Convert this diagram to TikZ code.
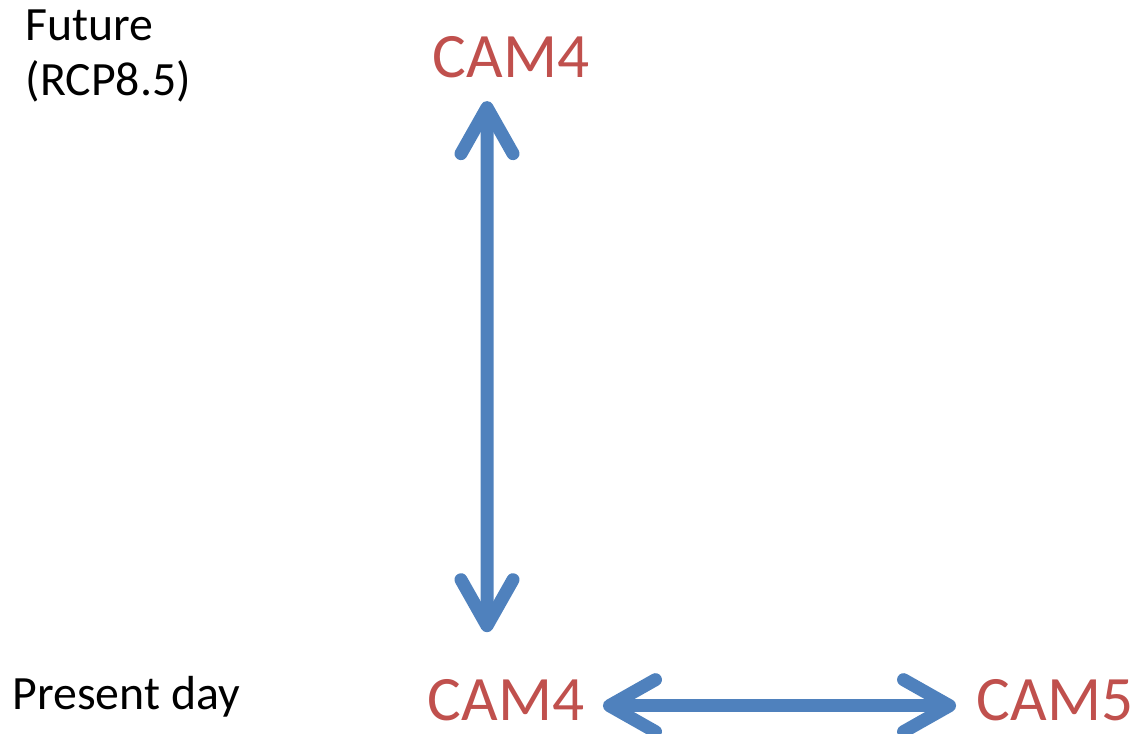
\documentclass[tikz,border=0pt]{standalone}
\usepackage{fontspec}
\setmainfont{Carlito}
\usepackage{xcolor}
\usepackage{tikz}
\usetikzlibrary{arrows.meta,positioning}
\definecolor{camred}{RGB}{192, 80, 77}
\definecolor{camblue}{RGB}{79, 129, 189}
\tikzset{
  camlabel/.style={inner sep=0pt, anchor=base, text=camred, font=\fontsize{18}{22}\selectfont},
  eralabel/.style={inner sep=0pt, anchor=base west, align=left, font=\fontsize{13.6}{15.8}\selectfont},
  link/.style={camblue, line width=3.7pt, line cap=round,
    {Straight Barb[round, length=4.6mm, width=5.2mm]}-{Straight Barb[round, length=4.6mm, width=5.2mm]}}
}

\begin{document}
\begin{tikzpicture}
\useasboundingbox (0,0) rectangle (11.38,7.34);
% Scenario labels
\node[eralabel] (future) at (0.25,6.38) {Future\\(RCP8.5)};
\node[eralabel] (present) at (0.12,0.24) {Present day};
% Model runs
\node[camlabel] (f4) at (5.11,6.56) {CAM4};
\node[camlabel] (p4) at (5.06,0.13) {CAM4};
\node[camlabel] (p5) at (10.55,0.13) {CAM5};
% Comparisons
\draw[link, shorten <=0.22cm, shorten >=0.47cm] ([xshift=-0.24cm]f4.south) -- ([xshift=-0.19cm]p4.north);
\draw[link, shorten <=0.18cm, shorten >=0.2cm] ([yshift=-0.05cm]p4.east) -- ([yshift=-0.05cm]p5.west);
\end{tikzpicture}
\end{document}
